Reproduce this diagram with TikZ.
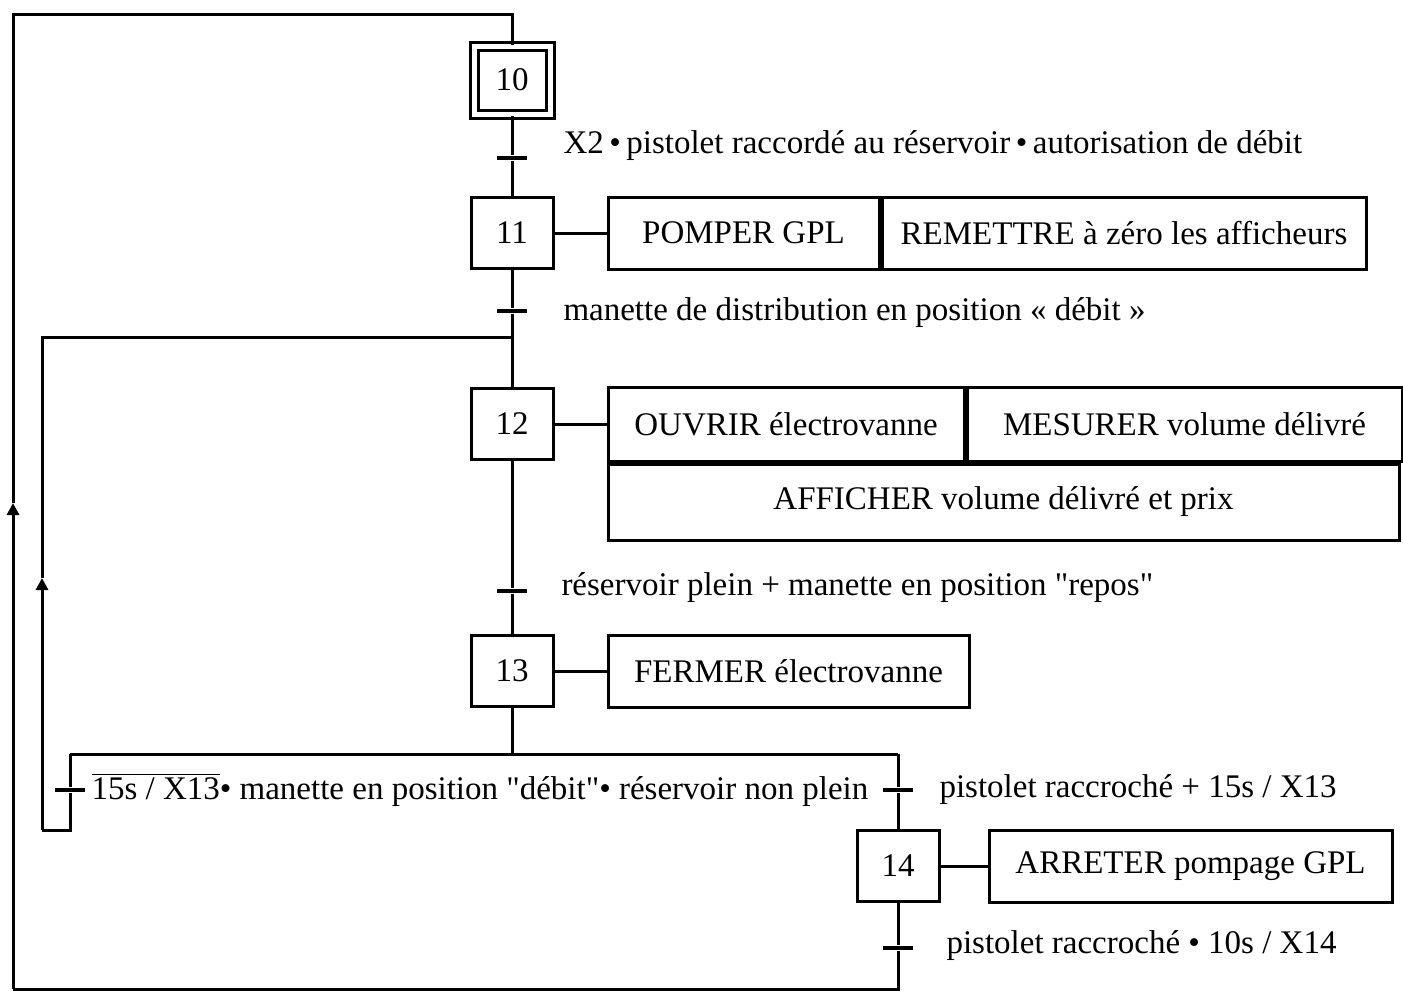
\documentclass[tikz,border=0pt]{standalone}
\usepackage{fontspec}
\setmainfont{Liberation Serif}
\usetikzlibrary{positioning,arrows.meta}

\tikzset{
  etape/.style={draw, minimum width=41pt, minimum height=35.5pt, inner sep=0pt},
  initiale/.style={etape, double, double distance=2.5pt, minimum width=38pt, minimum height=34pt},
  action/.style={draw, minimum height=36pt, inner sep=0pt},
  recept/.style={fill, minimum width=15pt, minimum height=1.8pt, inner sep=0pt},
  cond/.style={anchor=west, inner sep=0pt},
  fleche/.style={-{Triangle[length=6pt,width=6pt]}}
}

\begin{document}
\begin{tikzpicture}[x=0.5pt,y=-0.5pt, line width=1.5pt, font=\fontsize{16.5}{18}\selectfont]
    \useasboundingbox (0,0) rectangle (1403,992);
    % etapes
    \node[initiale] (e10) at (512,80) {10};
    \node[etape] (e11) at (512,233) {11};
    \node[etape] (e12) at (512,424) {12};
    \node[etape] (e13) at (512,671) {13};
    \node[etape] (e14) at (898,866) {14};
    % actions
    \node[action, minimum width=135.5pt, right=26pt of e11] (a11a) {POMPER GPL};
    \node[action, minimum width=242pt, right=0pt of a11a] (a11b) {REMETTRE à zéro les afficheurs};
    \node[action, minimum width=178pt, minimum height=37pt, right=26pt of e12] (a12a) {OUVRIR électrovanne};
    \node[action, minimum width=217.5pt, minimum height=37pt, right=0pt of a12a] (a12b) {MESURER volume délivré};
    \node[action, minimum width=395.5pt, minimum height=38pt, anchor=north west] (a12c) at (a12a.south west) {AFFICHER volume délivré et prix};
    \node[action, minimum width=180.5pt, right=26pt of e13] (a13) {FERMER électrovanne};
    \node[action, minimum width=201.5pt, right=23.5pt of e14] (a14) {ARRETER pompage GPL};
    % receptivites
    \node[recept] (t1) at (512,158) {};
    \node[recept] (t2) at (512,311) {};
    \node[recept] (t3) at (512,591) {};
    \node[recept] (t4) at (70,790) {};
    \node[recept] (t5) at (898,790) {};
    \node[recept] (t6) at (898,948) {};
    \node[cond] (c1) at (562,146) {X2\,\textbullet\,pistolet raccordé au réservoir\,\textbullet\,autorisation de débit};
    \node[cond] (c2) at (562,313) {manette de distribution en position « débit »};
    \node[cond] (c3) at (560,588) {réservoir plein + manette en position \textquotedbl repos\textquotedbl};
    \node[cond] (c4) at (90,790) {$\overline{\mbox{15s / X13}}$\textbullet\ manette en position \textquotedbl débit\textquotedbl\textbullet\ réservoir non plein};
    \node[cond] (c5) at (938,790) {pistolet raccroché + 15s / X13};
    \node[cond] (c6) at (945,946) {pistolet raccroché \textbullet\ 10s / X14};
    % points de liaison
    \coordinate (h0) at (512,14);
    \coordinate (h1) at (13,14);
    \coordinate (m1) at (13,503);
    \coordinate (h2) at (13,989);
    \coordinate (h3) at (898,989);
    \coordinate (r0) at (512,337);
    \coordinate (r1) at (42,337);
    \coordinate (m2) at (42,578);
    \coordinate (r2) at (42,830);
    \coordinate (r3) at (70,830);
    \coordinate (d0) at (512,754);
    \coordinate (dl) at (70,754);
    \coordinate (dr) at (898,754);
    % liaisons
    \draw (e10) -- (t1) -- (e11) -- (t2) -- (e12) -- (t3) -- (e13) -- (d0);
    \draw (dl) -- (dr);
    \draw (dr) -- (t5) -- (e14) -- (t6) -- (h3) -- (h2);
    \draw[fleche] (h2) -- (m1);
    \draw (m1) -- (h1) -- (h0) -- (e10);
    \draw (dl) -- (t4) -- (r3) -- (r2);
    \draw[fleche] (r2) -- (m2);
    \draw (m2) -- (r1) -- (r0);
    \draw (e11) -- (a11a);
    \draw (e12) -- (a12a);
    \draw (e13) -- (a13);
    \draw (e14) -- (a14);
\end{tikzpicture}
\end{document}
